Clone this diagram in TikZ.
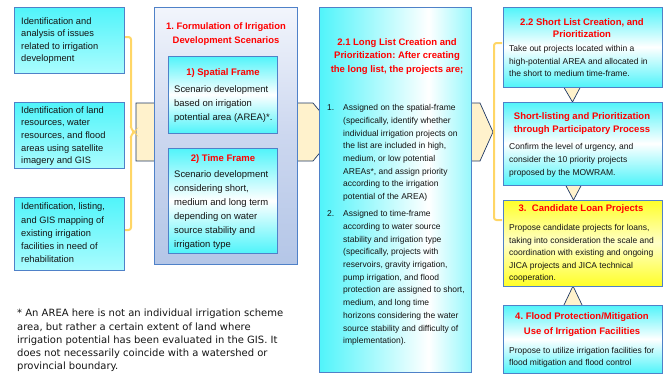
\documentclass[tikz,border=0pt]{standalone}
\usepackage{fontspec}
\setmainfont{Liberation Sans}
\newfontfamily\notefont{DejaVu Sans}
\usetikzlibrary{calc}
\frenchspacing

\definecolor{cyanA}{RGB}{80,244,250}
\definecolor{cyanL}{RGB}{170,252,254}
\definecolor{cyanM}{RGB}{150,248,252}
\definecolor{bord}{RGB}{79,129,200}
\definecolor{panelTop}{RGB}{242,245,252}
\definecolor{panelMid}{RGB}{204,215,239}
\definecolor{panelBot}{RGB}{180,198,231}
\definecolor{peach}{RGB}{255,242,204}
\definecolor{navy}{RGB}{31,56,100}
\definecolor{gold}{RGB}{255,214,102}
\definecolor{yelA}{RGB}{255,255,40}
\definecolor{yelL}{RGB}{255,255,200}
\definecolor{ink}{RGB}{20,20,20}
\definecolor{redt}{RGB}{255,0,0}

% cyan on both sides, white a little right of the centre
\pgfdeclarehorizontalshading{panelh}{100bp}{color(0bp)=(cyanA); color(25bp)=(cyanA); color(61bp)=(white); color(75bp)=(cyanM); color(100bp)=(cyanM)}

\tikzset{
  boxline/.style={draw=bord, line width=0.8pt, inner sep=0pt, outer sep=0pt, anchor=north west},
  leftbox/.style={boxline, top color=cyanA, bottom color=cyanL},
  cyanbox/.style={boxline, top color=cyanA, bottom color=cyanA, middle color=white},
  yelbox/.style={boxline, top color=yelA, bottom color=yelA, middle color=yelL},
  panelbox/.style={boxline, top color=panelTop, bottom color=panelBot, middle color=panelMid},
  longbox/.style={boxline, shade, shading=panelh},
  arrowband/.style={fill=peach, draw=navy, line width=0.7pt, line join=miter},
  bracket/.style={draw=gold, line width=2pt, rounded corners=2.5pt},
  txt/.style={inner sep=0pt, anchor=north west, align=left, text=ink},
  ttl/.style={inner sep=0pt, anchor=north, align=center, text=redt},
}

\begin{document}
\begin{tikzpicture}[x=1pt,y=-1pt]
\useasboundingbox (0,0) rectangle (670,376);

% broad arrows leading through the middle column
\coordinate (bandL) at (136,132);
\draw[arrowband] (136,103) -- (313,103) -- (337,132) -- (313,161) -- (136,161) -- cycle;
\draw[arrowband] (455,103) -- (480,103) -- (493,132) -- (480,161) -- (455,161) -- cycle;

% left column
\node[leftbox, minimum width=110, minimum height=66] (la) at (14,7) {};
\node[leftbox, minimum width=110, minimum height=66] (lb) at (14,102) {};
\node[leftbox, minimum width=110, minimum height=73] (lc) at (14,197) {};
\node[txt, font={\fontsize{9.3}{12.5}\selectfont}] (lat) at (21,17.4)
  {Identification and\\analysis of issues\\related to irrigation\\development};
\node[txt, font={\fontsize{9.3}{12.6}\selectfont}] (lbt) at (21,106.4)
  {Identification of land\\resources, water\\resources, and flood\\areas using satellite\\imagery and GIS};
\node[txt, font={\fontsize{9.3}{13.25}\selectfont}] (lct) at (21,203)
  {Identification, listing,\\and GIS mapping of\\existing irrigation\\facilities in need of\\rehabilitation};

% bracket gathering the left column
\coordinate (bkTop) at ($(la.east)+(1,-3)$);
\coordinate (bkBot) at ($(lc.east)+(1,-3.5)$);
\draw[bracket] (bkTop) -- ++(6,0) -- ($(bandL)+(-5,-3)$) -- ($(bandL)+(-1.5,0)$) -- ($(bandL)+(-5,3)$) -- ($(bkBot)+(6,0)$) -- (bkBot);

% scenario panel
\node[panelbox, minimum width=143, minimum height=257] (mp) at (154,7) {};
\node[ttl, font={\bfseries\fontsize{9.4}{14}\selectfont}] (mpt) at (226,22.6)
  {1. Formulation of Irrigation\\Development Scenarios};
\node[cyanbox, minimum width=109, minimum height=77] (sf) at (168,56) {};
\node[ttl, font={\bfseries\fontsize{9.5}{14}\selectfont}] (sft) at (223,68.3) {1) Spatial Frame};
\node[txt, font={\fontsize{9.45}{14}\selectfont}] (sfx) at (174,85)
  {Scenario development\\based on irrigation\\potential area (AREA)*.};
\node[cyanbox, minimum width=109, minimum height=105] (tf) at (168,148) {};
\node[ttl, font={\bfseries\fontsize{9.5}{14}\selectfont}] (tft) at (223,154) {2) Time Frame};
\node[txt, font={\fontsize{9.45}{14}\selectfont}] (tfx) at (174,170)
  {Scenario development\\considering short,\\medium and long term\\depending on water\\source stability and\\irrigation type};

% long list panel
\node[longbox, minimum width=152, minimum height=365] (cp) at (319,7) {};
\node[ttl, font={\bfseries\fontsize{9.5}{13.65}\selectfont}] (cpt) at (397,38)
  {2.1 Long List Creation and\\Prioritization: After creating\\the long list, the projects are;};
\node[txt, font={\fontsize{8.5}{12.7}\selectfont}] (n1) at (327,104.4) {1.};
\node[txt, font={\fontsize{8.5}{12.7}\selectfont}] (i1) at (343,104.4)
  {Assigned on the spatial-frame\\(specifically, identify whether\\individual irrigation projects on\\the list are included in high,\\medium, or low potential\\AREAs*, and assign priority\\according to the irrigation\\potential of the AREA)};
\node[txt, font={\fontsize{8.5}{12.7}\selectfont}] (n2) at (327,210.4) {2.};
\node[txt, font={\fontsize{8.5}{12.7}\selectfont}] (i2) at (343,210.4)
  {Assigned to time-frame\\according to water source\\stability and irrigation type\\(specifically, projects with\\reservoirs, gravity irrigation,\\pump irrigation, and flood\\protection are assigned to short,\\medium, and long time\\horizons considering the water\\source stability and difficulty of\\implementation).};

% right column: small arrows between the boxes (drawn first, boxes cover their bases)
\coordinate (b22s) at (582,87);
\coordinate (sls) at (583,185);
\coordinate (b4n) at (583,305);
\draw[arrowband] ($(b22s)+(-19.5,-2)$) -- ($(b22s)+(-9.5,15)$) -- ($(b22s)+(-0.5,-2)$) -- cycle;
\draw[arrowband] ($(sls)+(-18.5,-2)$) -- ($(sls)+(-9.5,15)$) -- ($(sls)+(-0.5,-2)$) -- cycle;
\draw[arrowband] ($(b4n)+(-20,2)$) -- ($(b4n)+(-10,-19)$) -- ($(b4n)+(0,2)$) -- cycle;

\node[cyanbox, minimum width=159, minimum height=80] (b22) at (503,7) {};
\node[ttl, font={\bfseries\fontsize{9.5}{12.7}\selectfont}] (b22t) at (582,18)
  {2.2 Short List Creation, and\\Prioritization};
\node[txt, font={\fontsize{8.5}{12.35}\selectfont}] (b22x) at (509,45.4)
  {Take out projects located within a\\high-potential AREA and allocated in\\the short to medium time-frame.};

\node[cyanbox, minimum width=159, minimum height=83] (sl) at (503,102) {};
\node[ttl, font={\bfseries\fontsize{9.5}{13.3}\selectfont}] (slt) at (582,112.3)
  {Short-listing and Prioritization\\through Participatory Process};
\node[txt, font={\fontsize{8.5}{13}\selectfont}] (slx) at (509,142.8)
  {Confirm the level of urgency, and\\consider the 10 priority projects\\proposed by the MOWRAM.};

\node[yelbox, minimum width=159, minimum height=86] (b3) at (503,200) {};
\node[ttl, font={\bfseries\fontsize{9.5}{13}\selectfont}] (b3t) at (581,204.6)
  {3.\ \ Candidate Loan Projects};
\node[txt, font={\fontsize{8.5}{12.5}\selectfont}] (b3x) at (509,224.4)
  {Propose candidate projects for loans,\\taking into consideration the scale and\\coordination with existing and ongoing\\JICA projects and JICA technical\\cooperation.};

\node[cyanbox, minimum width=159, minimum height=68] (b4) at (503,305) {};
\node[ttl, font={\bfseries\fontsize{9.5}{15}\selectfont}] (b4t) at (582,312.3)
  {4. Flood Protection/Mitigation\\Use of Irrigation Facilities};
\node[txt, font={\fontsize{8.5}{12}\selectfont}] (b4x) at (509,346.8)
  {Propose to utilize irrigation facilities for\\flood mitigation and flood control};

% bracket joining 2.2 to 3
\coordinate (rbTop) at ($(b22.west)+(-1,-4)$);
\coordinate (rbBot) at ($(b3.west)+(-1,-23)$);
\draw[bracket] (rbTop) -- ++(-8,0) -- ($(rbBot)+(-8,0)$) -- (rbBot);

% footnote
\node[txt, font={\notefont\fontsize{10}{13.25}\selectfont}] (note) at (17,309)
  {* An AREA here is not an individual irrigation scheme\\area, but rather a certain extent of land where\\irrigation potential has been evaluated in the GIS. It\\does not necessarily coincide with a watershed or\\provincial boundary.};
\end{tikzpicture}
\end{document}
